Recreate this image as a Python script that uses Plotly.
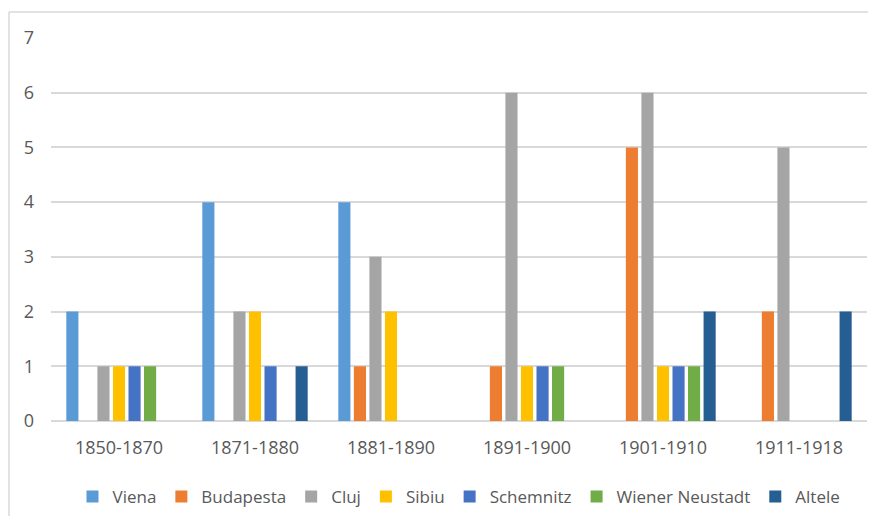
import plotly.graph_objects as go

categories = ["1850-1870", "1871-1880", "1881-1890", "1891-1900", "1901-1910", "1911-1918"]
series_names = ["Viena", "Budapesta", "Cluj", "Sibiu", "Schemnitz", "Wiener Neustadt", "Altele"]
viena = [2, 4, 4, 0, 0, 0]
budapesta = [0, 0, 1, 1, 5, 2]
cluj = [1, 2, 3, 6, 6, 5]
sibiu = [1, 2, 2, 1, 1, 0]
schemnitz = [1, 1, 0, 1, 1, 0]
wiener_neustadt = [1, 0, 0, 1, 1, 0]
altele = [0, 1, 0, 0, 2, 2]
y_ticks = [0, 1, 2, 3, 4, 5, 6, 7]

COLORS = ["#5B9BD5", "#ED7D31", "#A5A5A5", "#FFC000", "#4472C4", "#70AD47", "#255E91"]
TEXT = "#595959"
GRID = "#D9D9D9"
FONT = "Open Sans, Liberation Sans, Arial, sans-serif"

# the page body has an 8px margin, so the figure is laid out 8px in from the window edge
W, H = 868, 518
L, R, T, B = 43, 9, 30, 105

fig = go.Figure()
for name, vals, col in zip(series_names,
                           [viena, budapesta, cluj, sibiu, schemnitz, wiener_neustadt, altele],
                           COLORS):
    fig.add_trace(go.Bar(x=categories, y=vals, name=name, marker_color=col,
                         marker_line_width=0))

pw, ph = W - L - R, H - T - B
top_y = (H - B - 4) / ph
# outer chart border (top + left visible in the reference)
fig.add_shape(type="line", xref="paper", yref="paper",
              x0=(1 - L) / pw, x1=(W + 5 - L) / pw, y0=top_y, y1=top_y,
              line=dict(color=GRID, width=1.5))
fig.add_shape(type="line", xref="paper", yref="paper",
              x0=(1 - L) / pw, x1=(1 - L) / pw, y0=top_y, y1=(H - B - 508) / ph,
              line=dict(color=GRID, width=1.5))

fig.update_layout(
    width=W, height=H,
    paper_bgcolor="white", plot_bgcolor="white",
    font=dict(family=FONT, color=TEXT, size=17),
    margin=dict(l=L, r=R, t=T, b=B, autoexpand=False),
    barmode="group", bargap=0.2, bargroupgap=0.22,
    showlegend=True,
    legend=dict(orientation="h", x=0.5, xanchor="center", y=-76 / ph, yanchor="middle",
                bgcolor="rgba(0,0,0,0)",
                font=dict(size=17, color=TEXT), itemwidth=30, traceorder="normal"),
    xaxis=dict(showgrid=False, showline=False, ticks="", tickfont=dict(size=18, color=TEXT),
               ticklabelstandoff=14),
    yaxis=dict(range=[0, 7], tickvals=y_ticks, showgrid=True, gridcolor=GRID, gridwidth=1.5,
               zeroline=True, zerolinecolor=GRID, zerolinewidth=1.5, showline=False,
               ticks="", tickfont=dict(size=18, color=TEXT), ticklabelstandoff=16),
)

fig.write_html("out.html")
